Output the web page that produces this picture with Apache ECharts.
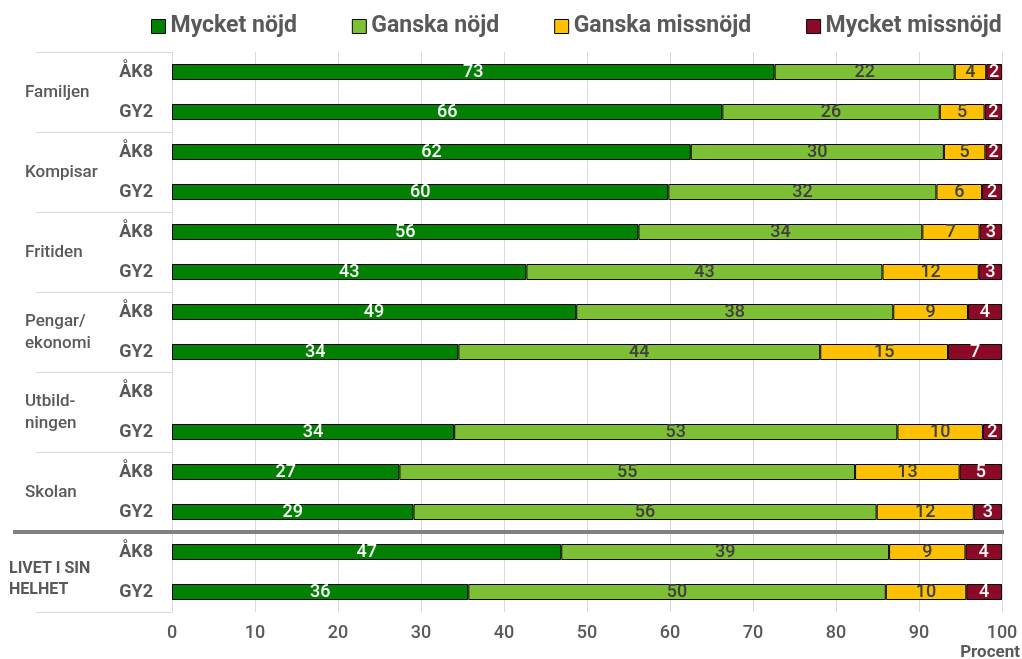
<!DOCTYPE html>
<html>
<head>
<meta charset="utf-8">
<script src="https://cdn.jsdelivr.net/npm/echarts@6/dist/echarts.min.js"></script>
<style>
  html, body { margin: 0; padding: 0; background: #fff; }
  #chart { width: 1022px; height: 659px; }
</style>
</head>
<body>
<div id="chart"></div>
<script>
var rows = ["ÅK8", "GY2", "ÅK8", "GY2", "ÅK8", "GY2", "ÅK8", "GY2", "ÅK8", "GY2", "ÅK8", "GY2", "ÅK8", "GY2"];
var groups = ["Familjen", "Kompisar", "Fritiden", "Pengar/\nekonomi", "Utbild-\nningen", "Skolan", "LIVET I SIN\nHELHET"];
var seriesNames = ["Mycket nöjd", "Ganska nöjd", "Ganska missnöjd", "Mycket missnöjd"];

// bar lengths (percent)
var mycketNojd = [72.6, 66.3, 62.5, 59.8, 56.2, 42.7, 48.7, 34.5, null, 34.0, 27.4, 29.1, 46.9, 35.7];
var ganskaNojd = [21.7, 26.2, 30.5, 32.3, 34.2, 42.9, 38.2, 43.6, null, 53.4, 54.9, 55.8, 39.5, 50.3];
var ganskaMiss = [3.8, 5.4, 5.0, 5.5, 6.9, 11.6, 9.0, 15.4, null, 10.3, 12.6, 11.7, 9.2, 9.7];
var mycketMiss = [1.9, 2.1, 2.0, 2.4, 2.7, 2.8, 4.1, 6.5, null, 2.3, 5.1, 3.4, 4.4, 4.3];

// printed labels
var lblMycketNojd = [73, 66, 62, 60, 56, 43, 49, 34, null, 34, 27, 29, 47, 36];
var lblGanskaNojd = [22, 26, 30, 32, 34, 43, 38, 44, null, 53, 55, 56, 39, 50];
var lblGanskaMiss = [4, 5, 5, 6, 7, 12, 9, 15, null, 10, 13, 12, 9, 10];
var lblMycketMiss = [2, 2, 2, 2, 3, 3, 4, 7, null, 2, 5, 3, 4, 4];

var colors = ["#008000", "#7dbf35", "#ffc000", "#8c0a26"];
var labelColors = ["#ffffff", "#404040", "#404040", "#ffffff"];
var FONT = "Roboto, 'Liberation Sans', sans-serif";

var myChart = echarts.init(document.getElementById("chart"));

function makeSeries(i, values, labels) {
  return {
    name: seriesNames[i],
    type: "bar",
    stack: "total",
    barWidth: 16,
    data: values,
    itemStyle: { color: colors[i], borderColor: "#000", borderWidth: 1 },
    label: {
      show: true,
      position: "inside",
      color: labelColors[i],
      fontFamily: FONT,
      fontSize: 18,
      fontWeight: 500,
      formatter: function (p) {
        return labels[p.dataIndex] == null ? "" : labels[p.dataIndex];
      },
    },
    emphasis: { disabled: true },
  };
}

myChart.setOption({
  animation: false,
  color: colors,
  legend: {
    top: 10,
    left: 146,
    itemWidth: 14,
    itemHeight: 14,
    itemGap: 55,
    icon: "rect",
    itemStyle: { borderColor: "#000", borderWidth: 1 },
    textStyle: {
      fontFamily: FONT,
      fontSize: 23,
      fontWeight: "bold",
      color: "#595959",
    },
    data: seriesNames,
  },
  grid: { left: 172, right: 20, top: 52, bottom: 47, outerBoundsMode: "none" },
  xAxis: {
    type: "value",
    min: 0,
    max: 100,
    interval: 10,
    axisLine: { show: false },
    axisTick: { show: false },
    splitLine: { show: true, lineStyle: { color: "#d9d9d9", width: 1 } },
    axisLabel: {
      margin: 12,
      fontFamily: FONT,
      fontSize: 18,
      fontWeight: 500,
      color: "#595959",
    },
    name: "Procent",
    nameLocation: "end",
    nameGap: 18,
    nameTextStyle: {
      align: "right",
      verticalAlign: "top",
      padding: [32, 0, 0, 0],
      fontFamily: FONT,
      fontSize: 17,
      fontWeight: "bold",
      color: "#595959",
    },
  },
  yAxis: [
    {
      type: "category",
      inverse: true,
      data: rows,
      axisLine: { show: true, lineStyle: { color: "#d9d9d9" } },
      axisTick: { show: false },
      axisLabel: {
        margin: 19,
        fontFamily: FONT,
        fontSize: 18,
        fontWeight: "bold",
        color: "#595959",
      },
    },
    {
      type: "category",
      inverse: true,
      position: "left",
      data: groups,
      axisLine: { show: false },
      axisTick: { show: true, length: 136, lineStyle: { color: "#d9d9d9" } },
      axisLabel: {
        margin: 163,
        align: "left",
        formatter: function (v, idx) {
          return idx === groups.length - 1 ? "{a|" + v + "}" : "{b|" + v + "}";
        },
        rich: {
          a: { fontFamily: FONT, fontSize: 16, fontWeight: "bold", color: "#595959", lineHeight: 21, padding: [14, 0, 0, 0] },
          b: { fontFamily: FONT, fontSize: 17, fontWeight: 500, color: "#595959", lineHeight: 22, padding: [2, 0, 0, 16] },
        },
      },
    },
  ],
  series: [
    makeSeries(0, mycketNojd, lblMycketNojd),
    makeSeries(1, ganskaNojd, lblGanskaNojd),
    makeSeries(2, ganskaMiss, lblGanskaMiss),
    makeSeries(3, mycketMiss, lblMycketMiss),
  ],
});

// thick separator above "LIVET I SIN HELHET"
var yA = myChart.convertToPixel({ yAxisIndex: 0 }, 11);
var yB = myChart.convertToPixel({ yAxisIndex: 0 }, 12);
var xL = myChart.convertToPixel({ xAxisIndex: 0 }, 0);
var xR = myChart.convertToPixel({ xAxisIndex: 0 }, 100);
myChart.setOption({
  graphic: [
    {
      type: "line",
      z: 100,
      shape: { x1: xL - 159, y1: (yA + yB) / 2, x2: xR + 2, y2: (yA + yB) / 2 },
      style: { stroke: "#808080", lineWidth: 4 },
    },
  ],
});

window.addEventListener("resize", function () {
  myChart.resize();
});
</script>
</body>
</html>
